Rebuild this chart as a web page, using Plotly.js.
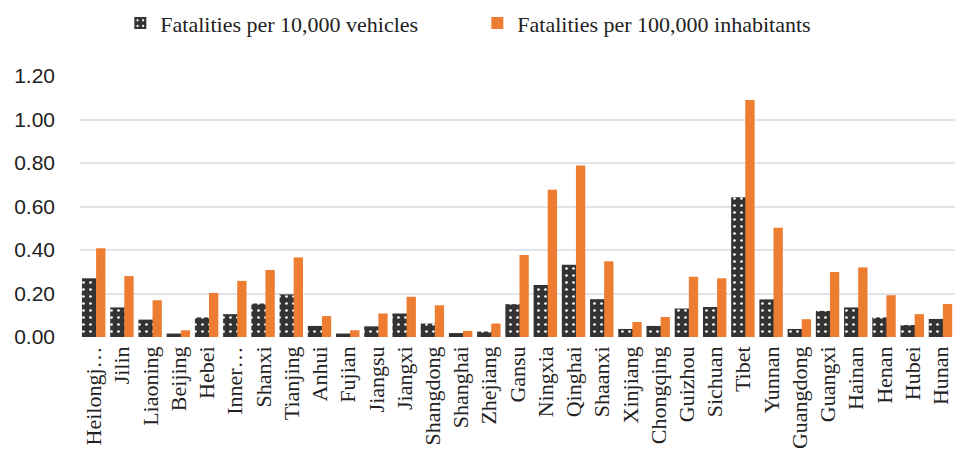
<!DOCTYPE html>
<html>
<head>
<meta charset="utf-8">
<script src="https://cdn.plot.ly/plotly-3.0.1.min.js"></script>
<style>html,body{margin:0;padding:0;background:#fff;}#chart{width:955px;height:456px;}</style>
</head>
<body>
<div id="chart"></div>
<script>
var provinces = ["Heilongj…","Jilin","Liaoning","Beijing","Hebei","Inner…","Shanxi","Tianjing","Anhui","Fujian","Jiangsu","Jiangxi","Shangdong","Shanghai","Zhejiang","Gansu","Ningxia","Qinghai","Shaanxi","Xinjiang","Chongqing","Guizhou","Sichuan","Tibet","Yunnan","Guangdong","Guangxi","Hainan","Henan","Hubei","Hunan"];
var perVehicles = [0.27,0.136,0.08,0.016,0.09,0.105,0.154,0.196,0.051,0.016,0.049,0.108,0.062,0.018,0.025,0.151,0.239,0.332,0.174,0.037,0.051,0.131,0.138,0.643,0.173,0.037,0.12,0.136,0.09,0.055,0.083];
var perInhabitants = [0.408,0.28,0.169,0.031,0.203,0.258,0.308,0.366,0.096,0.031,0.108,0.185,0.146,0.028,0.062,0.377,0.677,0.788,0.348,0.069,0.092,0.277,0.27,1.09,0.502,0.082,0.299,0.32,0.192,0.105,0.152];
var yTicks = [0,0.2,0.4,0.6,0.8,1.0,1.2];
var yTickText = ["0.00","0.20","0.40","0.60","0.80","1.00","1.20"];

var traces = [
  {type:"bar", name:"Fatalities per 10,000 vehicles", x:provinces, y:perVehicles,
   width:0.53, offset:-0.43,
   marker:{color:"#333333", line:{width:0},
     pattern:{shape:".", fgcolor:"#ffffff", bgcolor:"#333333", size:7, solidity:0.12}},
   hoverinfo:"x+y"},
  {type:"bar", name:"Fatalities per 100,000 inhabitants", x:provinces, y:perInhabitants,
   width:0.33, offset:0.07,
   marker:{color:"#ED7D31", line:{width:0}},
   hoverinfo:"x+y"}
];

var layout = {
  width:955, height:456,
  margin:{l:80, r:0, t:76, b:119, pad:0},
  paper_bgcolor:"#ffffff", plot_bgcolor:"#ffffff",
  barmode:"overlay",
  showlegend:true,
  legend:{orientation:"h", xref:"container", yref:"container", x:0.126, xanchor:"left", y:0.995, yanchor:"top",
    font:{family:"Liberation Serif, Times New Roman, serif", size:22, color:"#222"},
    itemwidth:30, entrywidth:312, entrywidthmode:"pixels", traceorder:"normal"},
  xaxis:{type:"category", range:[-0.5,30.5], tickangle:-90, showgrid:false, zeroline:false,
    showline:false, ticks:"", automargin:false, ticklabelstandoff:4,
    tickfont:{family:"Liberation Serif, Times New Roman, serif", size:22, color:"#222"}},
  yaxis:{range:[0,1.2], tickvals:yTicks, ticktext:yTickText, showgrid:true, gridcolor:"#e1e4eb", gridwidth:2,
    zeroline:false, showline:false, ticks:"", automargin:false, ticklabelstandoff:24,
    tickfont:{family:"Liberation Sans, Arial, sans-serif", size:21, color:"#222"}}
};

Plotly.newPlot("chart", traces, layout, {displayModeBar:false, staticPlot:true});
</script>
</body>
</html>
